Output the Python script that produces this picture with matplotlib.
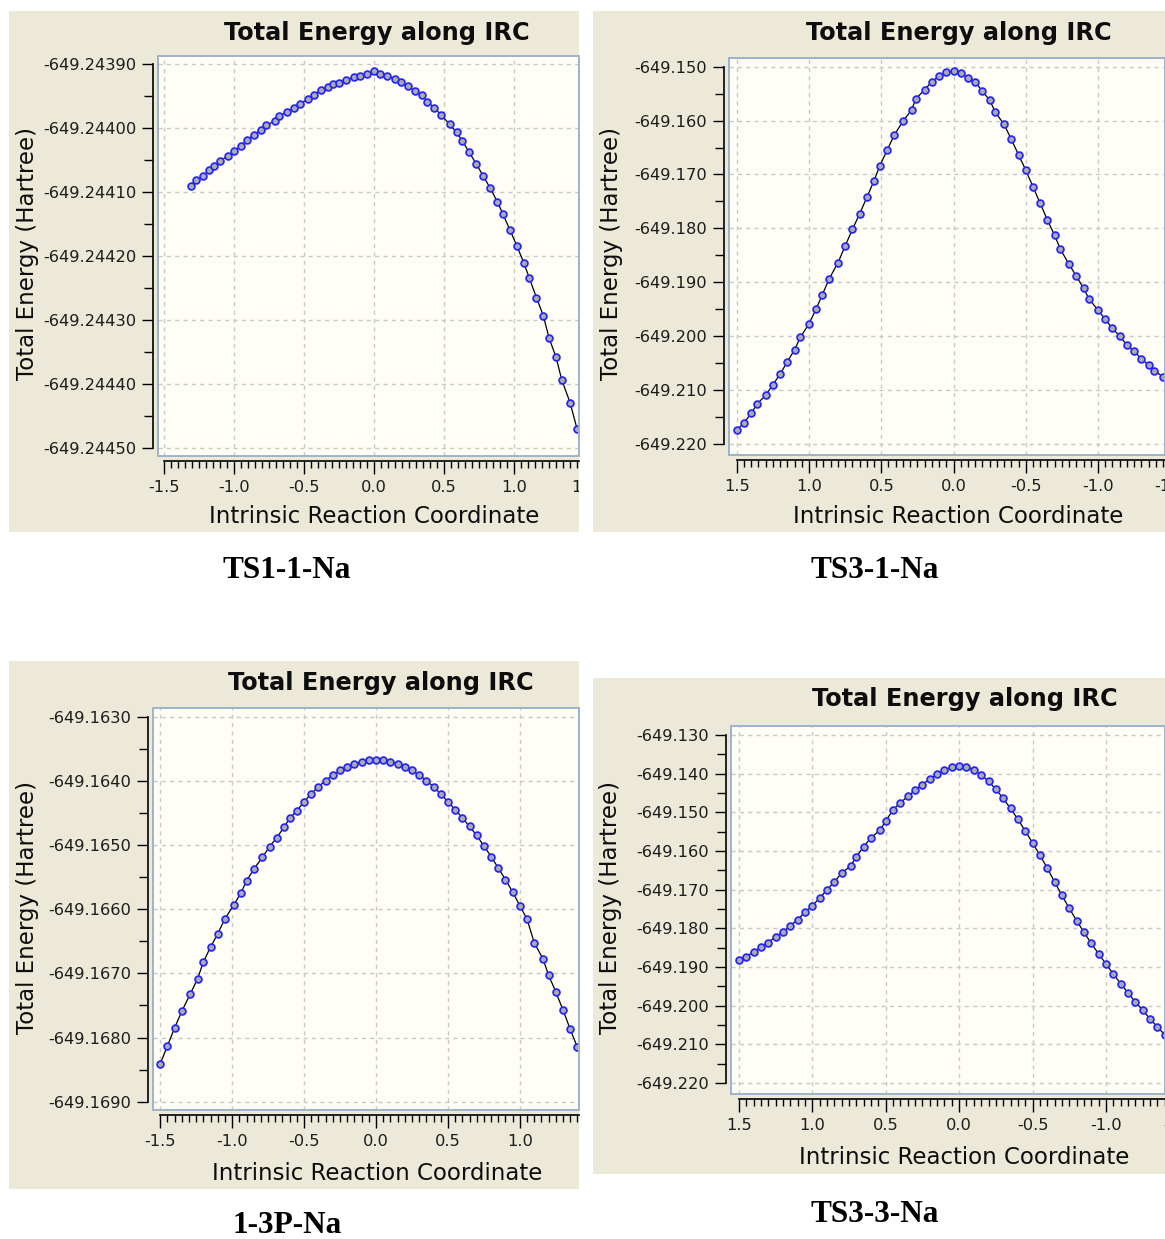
import math

import matplotlib
matplotlib.use("Agg")
import matplotlib.pyplot as plt
from matplotlib.patches import Rectangle
from matplotlib.ticker import MultipleLocator, FixedLocator, FormatStrFormatter
from matplotlib.transforms import Bbox, TransformedBbox

plt.rcParams["axes.unicode_minus"] = False
plt.rcParams["font.family"] = "DejaVu Sans"

W, H = 1165, 1239

# TS1-1-Na
ts1_x = [-1.31, -1.27, -1.22, -1.18, -1.14, -1.10, -1.04, -1.00, -0.95, -0.91,
         -0.86, -0.81, -0.77, -0.71, -0.68, -0.62, -0.57, -0.53, -0.47, -0.43,
         -0.38, -0.33, -0.29, -0.25, -0.20, -0.14, -0.10, -0.05, 0.00, 0.04,
         0.09, 0.15, 0.19, 0.24, 0.29, 0.34, 0.38, 0.43, 0.48, 0.54,
         0.59, 0.63, 0.68, 0.73, 0.78, 0.83, 0.88, 0.92, 0.97, 1.02,
         1.07, 1.11, 1.16, 1.21, 1.25, 1.30, 1.34, 1.40, 1.45]
ts1_e = [-649.244090, -649.244081, -649.244075, -649.244066, -649.244059,
         -649.244052, -649.244043, -649.244036, -649.244028, -649.244019,
         -649.244011, -649.244003, -649.243996, -649.243989, -649.243981,
         -649.243975, -649.243969, -649.243962, -649.243955, -649.243948,
         -649.243941, -649.243936, -649.243931, -649.243929, -649.243925,
         -649.243921, -649.243919, -649.243916, -649.243911, -649.243916,
         -649.243919, -649.243923, -649.243928, -649.243935, -649.243942,
         -649.243948, -649.243959, -649.243968, -649.243980, -649.243994,
         -649.244007, -649.244020, -649.244038, -649.244056, -649.244075,
         -649.244094, -649.244115, -649.244134, -649.244159, -649.244184,
         -649.244211, -649.244235, -649.244265, -649.244294, -649.244328,
         -649.244358, -649.244393, -649.244429, -649.244470]

# TS3-1-Na
ts31_x = [1.50, 1.45, 1.40, 1.36, 1.30, 1.25, 1.20, 1.15, 1.10, 1.06,
          1.00, 0.95, 0.91, 0.86, 0.80, 0.75, 0.70, 0.65, 0.60, 0.55,
          0.51, 0.46, 0.41, 0.35, 0.29, 0.26, 0.20, 0.15, 0.10, 0.05,
          0.00, -0.05, -0.10, -0.15, -0.20, -0.25, -0.29, -0.35, -0.40, -0.45,
          -0.50, -0.55, -0.60, -0.65, -0.70, -0.74, -0.80, -0.85, -0.90, -0.94,
          -1.00, -1.05, -1.10, -1.15, -1.20, -1.25, -1.30, -1.35, -1.39, -1.45]
ts31_e = [-649.21751, -649.21610, -649.21435, -649.21263, -649.21101,
          -649.20904, -649.20706, -649.20477, -649.20254, -649.20024,
          -649.19772, -649.19493, -649.19244, -649.18936, -649.18639,
          -649.18329, -649.18019, -649.17735, -649.17425, -649.17117,
          -649.16838, -649.16552, -649.16268, -649.16014, -649.15798,
          -649.15594, -649.15427, -649.15278, -649.15173, -649.15104,
          -649.15080, -649.15123, -649.15204, -649.15278, -649.15457,
          -649.15618, -649.15847, -649.16069, -649.16348, -649.16634,
          -649.16918, -649.17228, -649.17536, -649.17846, -649.18130,
          -649.18390, -649.18669, -649.18886, -649.19114, -649.19319,
          -649.19517, -649.19690, -649.19857, -649.20000, -649.20167,
          -649.20284, -649.20421, -649.20538, -649.20644, -649.20756]

# 1-3P-Na
p13_x = [-1.50, -1.45, -1.40, -1.35, -1.29, -1.24, -1.20, -1.15, -1.10, -1.05,
         -0.99, -0.94, -0.90, -0.85, -0.79, -0.74, -0.69, -0.64, -0.60, -0.55,
         -0.50, -0.45, -0.40, -0.35, -0.30, -0.25, -0.20, -0.15, -0.10, -0.05,
         0.00, 0.05, 0.10, 0.15, 0.20, 0.25, 0.30, 0.35, 0.40, 0.45,
         0.50, 0.55, 0.60, 0.65, 0.70, 0.75, 0.80, 0.85, 0.90, 0.95,
         1.00, 1.05, 1.10, 1.16, 1.20, 1.25, 1.30, 1.35, 1.40]
p13_e = [-649.168412, -649.168132, -649.167851, -649.167591, -649.167317,
         -649.167083, -649.166823, -649.166589, -649.166382, -649.166148,
         -649.165939, -649.165752, -649.165560, -649.165378, -649.165191,
         -649.165026, -649.164886, -649.164724, -649.164583, -649.164465,
         -649.164325, -649.164202, -649.164091, -649.163994, -649.163909,
         -649.163838, -649.163779, -649.163734, -649.163701, -649.163682,
         -649.163675, -649.163682, -649.163701, -649.163734, -649.163779,
         -649.163838, -649.163909, -649.163994, -649.164091, -649.164202,
         -649.164325, -649.164446, -649.164575, -649.164710, -649.164851,
         -649.165014, -649.165179, -649.165358, -649.165538, -649.165733,
         -649.165945, -649.166156, -649.166522, -649.166771, -649.167030,
         -649.167290, -649.167571, -649.167871, -649.168152]

# TS3-3-Na
ts33_x = [1.50, 1.45, 1.40, 1.35, 1.30, 1.25, 1.20, 1.15, 1.10, 1.05,
          1.00, 0.95, 0.90, 0.85, 0.80, 0.74, 0.70, 0.65, 0.60, 0.54,
          0.50, 0.45, 0.40, 0.35, 0.30, 0.25, 0.20, 0.15, 0.10, 0.05,
          0.00, -0.05, -0.10, -0.15, -0.20, -0.25, -0.30, -0.35, -0.40, -0.45,
          -0.50, -0.55, -0.60, -0.65, -0.70, -0.75, -0.80, -0.85, -0.90, -0.95,
          -1.00, -1.05, -1.10, -1.15, -1.20, -1.25, -1.30, -1.35, -1.40]
ts33_e = [-649.18810, -649.18733, -649.18612, -649.18483, -649.18373,
          -649.18211, -649.18098, -649.17928, -649.17774, -649.17584,
          -649.17414, -649.17216, -649.17003, -649.16797, -649.16573,
          -649.16386, -649.16144, -649.15887, -649.15656, -649.15460,
          -649.15229, -649.14928, -649.14750, -649.14590, -649.14430,
          -649.14280, -649.14140, -649.14010, -649.13900, -649.13830,
          -649.13797, -649.13820, -649.13900, -649.14030, -649.14200,
          -649.14400, -649.14640, -649.14900, -649.15180, -649.15480,
          -649.15790, -649.16110, -649.16440, -649.16800, -649.17150,
          -649.17480, -649.17800, -649.18100, -649.18390, -649.18660,
          -649.18920, -649.19180, -649.19430, -649.19670, -649.19900,
          -649.20120, -649.20340, -649.20550, -649.20750]

captions = ["TS1-1-Na", "TS3-1-Na", "1-3P-Na", "TS3-3-Na"]
title_text = "Total Energy along IRC"
xlabel_text = "Intrinsic Reaction Coordinate"
ylabel_text = "Total Energy (Hartree)"

FRAME = "#ece9d8"
PLOT_BG = "#fefef6"

fig = plt.figure(figsize=(W / 100, H / 100), dpi=100)


def fpt(x, y):
    return x / W, 1 - y / H


def panel(frame, box, xs, es, xlim, ylim, ystep, yfmt, spots, caption):
    x0, y0, x1, y1 = frame
    fig.patches.append(Rectangle(fpt(x0, y1), (x1 - x0) / W, (y1 - y0) / H,
                                 transform=fig.transFigure, facecolor=FRAME,
                                 edgecolor="none", zorder=-5))
    clip = TransformedBbox(Bbox.from_extents(x0 / W, 1 - y1 / H, x1 / W, 1 - y0 / H),
                           fig.transFigure)

    bx0, by0, bx1, by1 = box
    ax = fig.add_axes([bx0 / W, 1 - by1 / H, (bx1 - bx0) / W, (by1 - by0) / H])
    ax.set_facecolor(PLOT_BG)
    ax.plot(xs, es, color="black", lw=0.9, marker="o", ms=4.9,
            mfc="#acacac", mec="#2424ff", mew=1.25, zorder=4)
    ax.set_xlim(*xlim)
    ax.set_ylim(*ylim)

    xdir = 1 if xlim[1] > xlim[0] else -1
    first = -1.5 * xdir
    ax.xaxis.set_major_locator(MultipleLocator(0.5))
    minor = [first + xdir * 0.05 * k for k in range(70)]
    minor = [m for m in minor if min(xlim) <= m <= max(xlim)]
    ax.xaxis.set_minor_locator(FixedLocator(minor))
    ax.xaxis.set_major_formatter(FormatStrFormatter("%.1f"))
    ax.yaxis.set_major_locator(MultipleLocator(ystep))
    ax.yaxis.set_minor_locator(MultipleLocator(ystep / 2))
    ax.yaxis.set_major_formatter(FormatStrFormatter(yfmt))

    ax.tick_params(axis="x", which="major", length=9, width=1, pad=4.5,
                   labelsize=11.7, labelcolor="#1c1c1c")
    ax.tick_params(axis="x", which="minor", length=5, width=1)
    ax.tick_params(axis="y", which="major", length=8, width=1, pad=4,
                   labelsize=11.7, labelcolor="#1c1c1c")
    ax.tick_params(axis="y", which="minor", length=6.5, width=1)

    for s in ["top", "right"]:
        ax.spines[s].set_visible(False)
    ylo = math.ceil(ylim[0] / ystep - 1e-6) * ystep
    yhi = math.floor(ylim[1] / ystep + 1e-6) * ystep
    ax.spines["left"].set_position(("outward", 3.6))
    ax.spines["left"].set_bounds(ylo, yhi)
    ax.spines["bottom"].set_position(("outward", 3.6))
    ax.spines["bottom"].set_bounds(first, xlim[1])
    for s in ["left", "bottom"]:
        ax.spines[s].set_linewidth(1.3)
        ax.spines[s].set_color("#111111")

    ax.grid(True, which="major", color="#c9c9c9", ls=(0, (3, 3)), lw=1)
    ax.set_axisbelow(True)
    ax.add_patch(Rectangle((0, 0), 1, 1, transform=ax.transAxes, fill=False,
                           edgecolor="#9cb3cb", lw=1.4, clip_on=False, zorder=5))

    # the next tick label past the right edge, cut by the panel border
    k = 0
    while min(xlim) <= first + xdir * 0.5 * k <= max(xlim):
        k += 1
    nxt = first + xdir * 0.5 * k
    t = ax.annotate("%.1f" % nxt, xy=(nxt, 0), xycoords=("data", "axes fraction"),
                    xytext=(0, -17.3), textcoords="offset points", ha="center",
                    va="top", fontsize=11.7, color="#1c1c1c", annotation_clip=False)
    t.set_clip_path(None)
    t.set_clip_box(clip)
    t.set_clip_on(True)

    tx, ty, lx, ly, yx, yy, cx, cy = spots
    fig.text(*fpt(tx, ty), title_text, ha="center", va="baseline",
             fontsize=17.3, fontweight="bold", color="#0d0d0d")
    fig.text(*fpt(lx, ly), xlabel_text, ha="center", va="baseline",
             fontsize=16.5, color="#0d0d0d")
    fig.text(*fpt(yx, yy), ylabel_text, ha="center", va="center", rotation=90,
             fontsize=16.5, color="#0d0d0d")
    fig.text(*fpt(cx, cy), caption, ha="center", va="baseline",
             fontsize=22.5, fontweight="bold", family="Liberation Serif")
    return ax


panel((9, 11, 579, 532), (158, 56, 579, 456), ts1_x, ts1_e,
      (-1.543, 1.464), (-649.2445125, -649.2438875), 0.0001, "%.5f",
      (376.5, 40, 374, 523, 27.5, 254, 287, 578), captions[0])

panel((593, 11, 1165, 532), (729, 58, 1165, 455), ts31_x, ts31_e,
      (1.554, -1.464), (-649.22209, -649.14838), 0.01, "%.3f",
      (959, 40, 958, 523, 611.5, 254, 875, 578), captions[1])

panel((9, 661, 579, 1189), (153, 708, 579, 1110), p13_x, p13_e,
      (-1.55, 1.411), (-649.169129, -649.162864), 0.001, "%.4f",
      (380.5, 690, 377.5, 1180, 28, 907, 287.5, 1233), captions[2])

panel((593, 678, 1165, 1174), (731, 726, 1165, 1094), ts33_x, ts33_e,
      (1.554, -1.402), (-649.22284, -649.12767), 0.01, "%.3f",
      (965, 706, 964, 1164, 611, 908, 875, 1222), captions[3])

fig.savefig("out.png", dpi=100, facecolor="white")
